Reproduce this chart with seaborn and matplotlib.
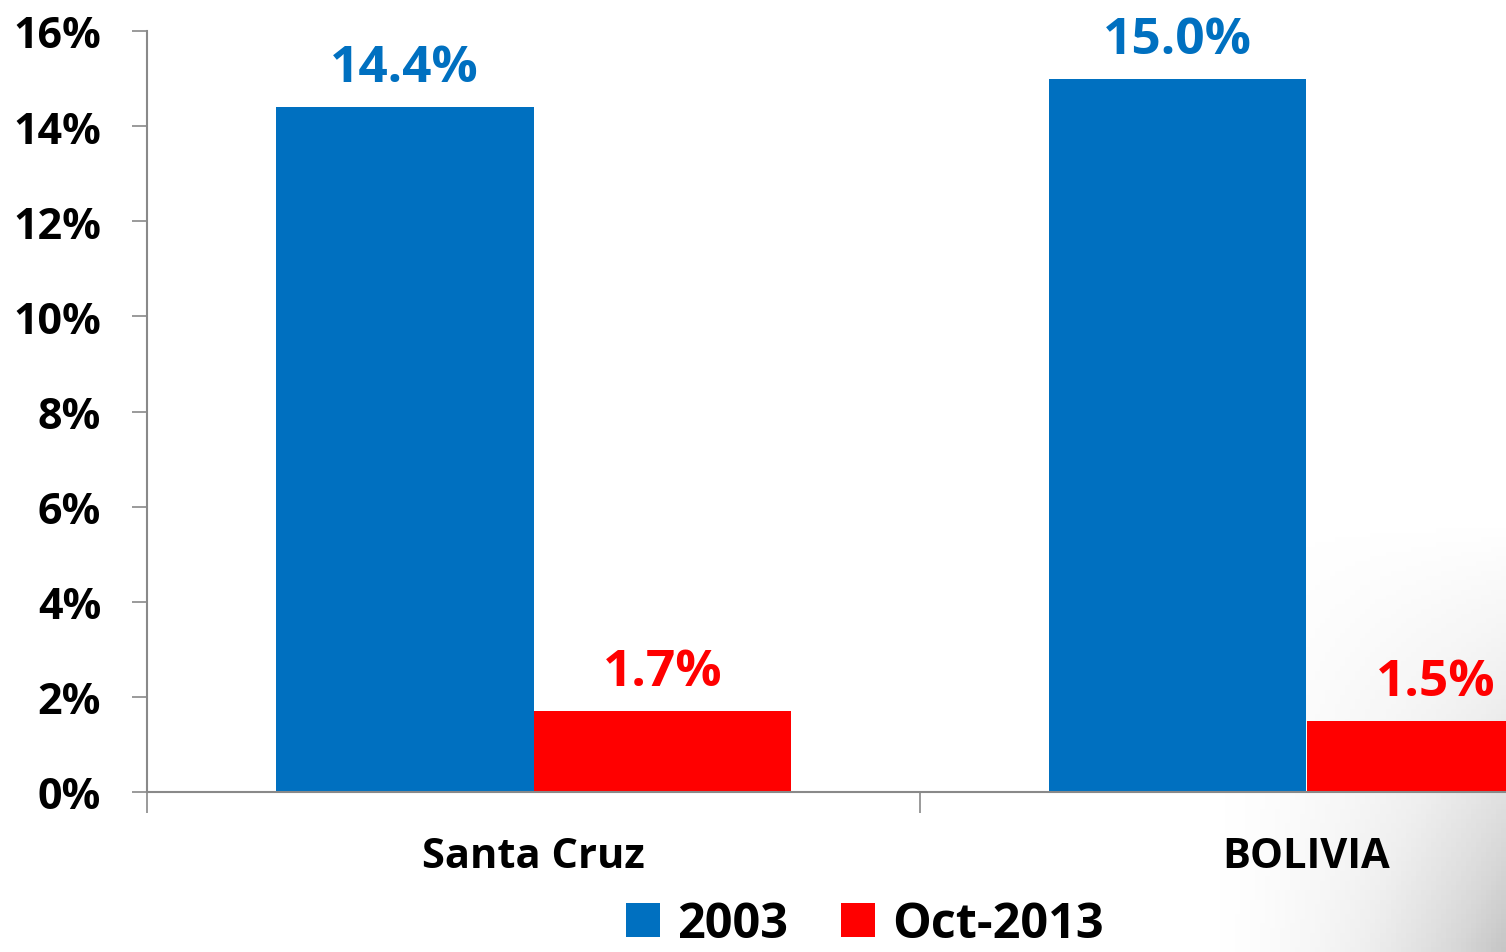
import pandas as pd
import numpy as np
import matplotlib
matplotlib.use('Agg')
import matplotlib.pyplot as plt
from matplotlib.patches import Patch
from matplotlib.ticker import FuncFormatter
import seaborn as sns

# data
regions = ['Santa Cruz', 'BOLIVIA']
periods = ['2003', 'Oct-2013']
values_2003 = [14.4, 15.0]
values_2013 = [1.7, 1.5]
y_ticks = [0, 2, 4, 6, 8, 10, 12, 14, 16]

colors = {'2003': '#0070C0', 'Oct-2013': '#FF0000'}

df = pd.DataFrame({
    'region': regions * 2,
    'period': [periods[0]] * len(regions) + [periods[1]] * len(regions),
    'value': values_2003 + values_2013,
})

sns.set_theme(style='white')
plt.rcParams['font.family'] = ['Open Sans', 'DejaVu Sans']
plt.rcParams['font.weight'] = 'bold'
plt.rcParams['text.color'] = 'black'
plt.rcParams['xtick.color'] = 'black'
plt.rcParams['ytick.color'] = 'black'

W, H = 1506, 953
fig = plt.figure(figsize=(W / 100, H / 100), dpi=100)

# faint grey shading in the lower right corner (background of the slide)
bg = fig.add_axes([0, 0, 1, 1], zorder=-1)
gx, gy = np.meshgrid(np.linspace(0, 1, 300), np.linspace(0, 1, 200))
shade = np.clip((gx - 0.8) / 0.2, 0, 1) ** 1.5 * np.clip((gy - 0.55) / 0.45, 0, 1)
bg.imshow(shade, cmap='Greys', vmin=0, vmax=3, aspect='auto',
          extent=[0, 1, 0, 1], origin='upper')
bg.set_axis_off()

# axes runs past the right edge of the figure, like the cropped original
ax = fig.add_axes([147 / W, 160 / H, 1546 / W, 761 / H])
ax.patch.set_alpha(0)

sns.barplot(data=df, x='region', y='value', hue='period', order=regions,
            hue_order=periods, palette=colors, width=0.667, saturation=1,
            edgecolor='none', linewidth=0, ax=ax, legend=False)

ax.set_xlim(-0.5, len(regions) - 0.5)
ax.set_ylim(0, 16)
ax.set_yticks(y_ticks)
ax.yaxis.set_major_formatter(FuncFormatter(lambda v, p: f'{v:.0f}%'))
ax.tick_params(axis='y', labelsize=31, length=11, width=1.2, color='#898989',
               pad=22, left=True, labelcolor='black')
for lbl in ax.get_yticklabels():
    lbl.set_fontweight('bold')

# category labels at centres, tick marks at category boundaries
ax.set_xticks(np.arange(-0.5, len(regions)), minor=False)
ax.set_xticklabels([])
ax.set_xticks(np.arange(len(regions)), minor=True)
ax.set_xticklabels(regions, minor=True, fontsize=30, fontweight='bold')
ax.tick_params(axis='x', which='major', length=15, width=1.2,
               color='#898989', bottom=True)
ax.tick_params(axis='x', which='minor', length=0, pad=32, labelcolor='black')
ax.set_xlabel('')
ax.set_ylabel('')

for side in ['top', 'right']:
    ax.spines[side].set_visible(False)
for side in ['left', 'bottom']:
    ax.spines[side].set_color('#898989')
    ax.spines[side].set_linewidth(1.5)

for cont, per in zip(ax.containers, periods):
    ax.bar_label(cont, fmt='%.1f%%', padding=10, fontsize=37,
                 fontweight='bold', color=colors[per])

handles = [Patch(facecolor=colors[p], edgecolor='none', label=p) for p in periods]
fig.legend(handles=handles, loc='lower center', ncol=2,
           bbox_to_anchor=(865 / W, -0.043), frameon=False,
           prop={'size': 35, 'weight': 'bold'}, handlelength=0.7,
           handleheight=0.7, handletextpad=0.35, columnspacing=1.1)

fig.savefig('out.png', dpi=100)
